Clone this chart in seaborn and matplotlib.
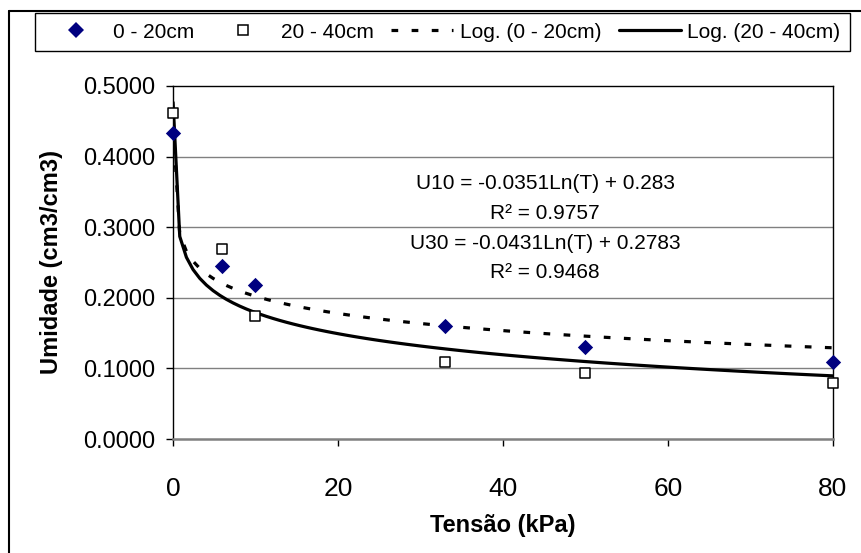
import numpy as np
import pandas as pd
import matplotlib
matplotlib.use("Agg")
import matplotlib.pyplot as plt
from matplotlib.lines import Line2D
import seaborn as sns

# ---------------- data ----------------
tensao = [0.01, 6, 10, 33, 50, 80]                      # kPa
umid_0_20 = [0.4334, 0.2455, 0.2186, 0.1600, 0.1305, 0.1085]
umid_20_40 = [0.4620, 0.2690, 0.1747, 0.1095, 0.0930, 0.0797]
coef_0_20 = (-0.0351, 0.283)      # U10 = a*Ln(T) + b
coef_20_40 = (-0.0431, 0.2783)    # U30 = a*Ln(T) + b
r2_values = [0.9757, 0.9468]
legend_labels = ["0 - 20cm", "20 - 40cm", "Log. (0 - 20cm)", "Log. (20 - 40cm)"]
x_ticks = [0, 20, 40, 60, 80]
y_ticks = [0.0, 0.1, 0.2, 0.3, 0.4, 0.5]

# ---------------- style ----------------
sns.set_style("white")
plt.rcParams["font.family"] = ["Liberation Sans", "DejaVu Sans"]
plt.rcParams["axes.linewidth"] = 1.0
for key in ["text.color", "axes.labelcolor", "xtick.color", "ytick.color",
            "xtick.labelcolor", "ytick.labelcolor"]:
    plt.rcParams[key] = "black"

W, H = 862, 553
fig = plt.figure(figsize=(W / 100, H / 100), dpi=100)
ax = fig.add_axes([173 / W, 1 - 439 / H, (833 - 173) / W, (439 - 86) / H])

# trendlines evaluated (like the spreadsheet does) from the displayed equations
t_fit = np.linspace(min(tensao), max(tensao), 100)
df_fit = pd.DataFrame({
    "T": t_fit,
    "u10": coef_0_20[0] * np.log(t_fit) + coef_0_20[1],
    "u30": coef_20_40[0] * np.log(t_fit) + coef_20_40[1],
})
dash_style = (0, (2.1, 4.2))
lw = 2.3
sns.lineplot(data=df_fit, x="T", y="u10", ax=ax, color="black", lw=lw,
             linestyle=dash_style, zorder=3)
sns.lineplot(data=df_fit, x="T", y="u30", ax=ax, color="black", lw=lw, zorder=3)

df_pts = pd.DataFrame({"T": tensao, "a": umid_0_20, "b": umid_20_40})
sns.scatterplot(data=df_pts, x="T", y="a", ax=ax, marker="D", s=7.8 ** 2,
                color="#000080", edgecolor="#000080", linewidth=0,
                clip_on=False, zorder=5)
sns.scatterplot(data=df_pts, x="T", y="b", ax=ax, marker="s", s=6.5 ** 2,
                color="white", edgecolor="black", linewidth=1.1,
                clip_on=False, zorder=5)

# axes
ax.set_xlim(0, 80)
ax.set_ylim(0, 0.5)
ax.set_xticks(x_ticks)
ax.set_yticks(y_ticks)
ax.set_yticklabels([f"{v:.4f}" for v in y_ticks])
ax.tick_params(axis="y", direction="out", length=5, width=1, pad=8,
               labelsize=17, left=True, colors="black")
ax.tick_params(axis="x", direction="out", length=5, width=1, pad=22,
               labelsize=19, bottom=True, colors="black")
for y in y_ticks[1:-1]:
    ax.axhline(y, color="#808080", lw=1.0, zorder=1)
for s in ["top", "right", "left"]:
    ax.spines[s].set_visible(True)
    ax.spines[s].set_color("black")
    ax.spines[s].set_linewidth(1.0)
ax.spines["bottom"].set_color("#808080")
ax.spines["bottom"].set_linewidth(1.8)

ax.set_xlabel("Tensão (kPa)", fontsize=17, fontweight="bold", labelpad=10,
              color="black")
ax.set_ylabel("Umidade (cm3/cm3)", fontsize=17, fontweight="bold", labelpad=14,
              color="black")

# equation annotations
eq1 = f"U10 = {coef_0_20[0]}Ln(T) + {coef_0_20[1]}"
eq2 = f"U30 = {coef_20_40[0]}Ln(T) + {coef_20_40[1]}"
ann_kw = dict(ha="center", va="center", fontsize=15, zorder=6, color="black")
ax.text(45.1, 0.3626, eq1, **ann_kw)
ax.text(45.1, 0.3200, f"R² = {r2_values[0]}", **ann_kw)
ax.text(45.1, 0.2776, eq2, **ann_kw)
ax.text(45.1, 0.2365, f"R² = {r2_values[1]}", **ann_kw)

# legend
handles = [
    Line2D([], [], marker="D", ls="", color="#000080", ms=7.8, mew=0),
    Line2D([], [], marker="s", ls="", mfc="white", mec="black", ms=6.5, mew=1.1),
    Line2D([], [], color="black", lw=lw, ls=dash_style),
    Line2D([], [], color="black", lw=lw),
]
leg = fig.legend(handles, legend_labels, loc="lower left",
                 bbox_to_anchor=(35 / W, 1 - 51 / H, 815 / W, 40 / H),
                 mode="expand", ncol=4, frameon=True, fancybox=False,
                 edgecolor="black", framealpha=1, fontsize=15,
                 handlelength=3.0, handletextpad=0.3, borderaxespad=0,
                 borderpad=0.45, labelcolor="black")
leg.get_frame().set_linewidth(1.0)

# chart-area border (left and top edges visible)
fig.add_artist(Line2D([9 / W, 9 / W], [0, 1 - 11 / H], transform=fig.transFigure,
                      color="black", lw=1.5))
fig.add_artist(Line2D([9 / W, 1], [1 - 11 / H, 1 - 11 / H], transform=fig.transFigure,
                      color="black", lw=1.5))

fig.savefig("out.png", dpi=100)
